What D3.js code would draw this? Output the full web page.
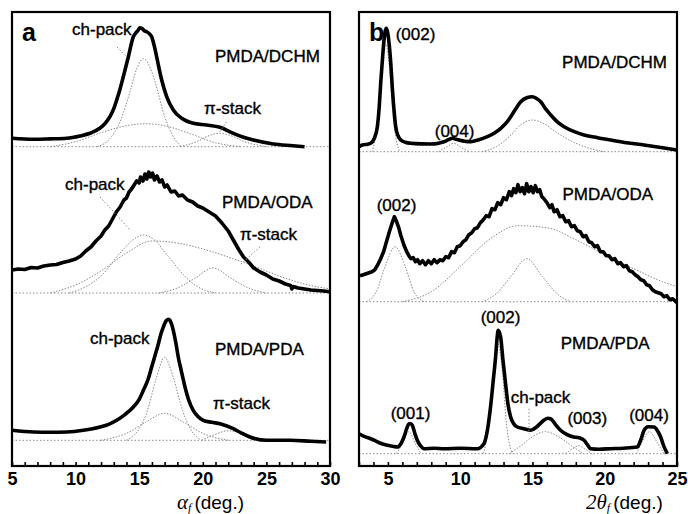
<!DOCTYPE html>
<html><head><meta charset="utf-8">
<script src="https://cdn.jsdelivr.net/npm/d3@7"></script>
<style>html,body{margin:0;padding:0;background:#fff}svg{display:block}</style>
</head><body><div id="chart"></div>
<script>
// ---------- data (intensity in a.u., relative to each fit baseline) ----------
const sampleNames = ["PMDA/DCHM", "PMDA/ODA", "PMDA/PDA"];
const xTicksA = [5, 10, 15, 20, 25, 30];
const xTicksB = [5, 10, 15, 20, 25];

// panel a : azimuthal profiles (alpha_f)
const aDCHM = [[5.0,8.4],[6.7,7.4],[8.0,7.8],[9.3,8.4],[10.35,10.7],[11.13,13.4],[11.9,18.4],[12.3,23],[12.7,30],[13.0,38],[13.23,46.7],[13.5,58],[13.75,70],[14.15,90],[14.54,110],[14.75,114],[14.93,116.7],[15.05,119],[15.2,118.4],[15.4,116],[15.59,115],[15.8,113],[15.98,110],[16.2,100],[16.37,90],[16.77,66.7],[17.16,50],[17.68,36.7],[18.34,28.4],[19.25,23.4],[20.3,21.7],[21.35,19.4],[22.4,13.4],[23.2,9.5],[23.97,6.7],[25.54,2.7],[27.1,1],[28.0,0]];
const aDCHMch = [[11.7,0],[12.7,8],[13.5,25],[14.3,56],[14.8,78],[15.33,88],[15.9,78],[16.4,58],[17.0,30],[17.6,12],[18.3,0]];
const aDCHMbroad = [[8,0],[10,5],[12,14],[14,21],[15.5,23],[17,21],[19,13],[21,4],[23,0]];
const aDCHMpi = [[18.2,0],[19.5,5],[20.5,11],[21.3,13.5],[22.2,11],[23.3,5],[25,0]];

const aODA = [[5.0,23],[5.5,24],[6.0,23.5],[6.5,25.5],[7.0,25],[7.5,27],[8.0,28],[8.5,28.5],[9.0,30.5],[9.5,32],[10.0,34],[10.4,37],[10.8,42],[11.2,46],[11.6,52],[12.0,57],[12.3,63],[12.6,67],[12.9,74],[13.2,81],[13.5,86],[13.8,93],[14.0,95],[14.2,101],[14.4,104],[14.6,108],[14.8,112],[15.0,110],[15.1,116],[15.3,112],[15.45,119],[15.6,114],[15.75,121],[15.9,116],[16.05,120],[16.2,113],[16.4,117],[16.6,111],[16.8,113],[17.0,106],[17.2,108],[17.5,101],[17.8,102],[18.1,97],[18.4,98],[18.8,93],[19.2,91],[19.6,87],[20.0,85],[20.5,81],[21.0,77],[21.5,70],[22.0,62],[22.4,53],[22.8,44],[23.2,36],[23.6,31],[24.0,25],[24.5,21],[25.0,18],[25.5,14],[26.0,12],[26.5,9],[26.9,7.5],[27.0,4],[27.1,6.5],[27.5,5],[28.0,4],[28.5,3],[29.0,2.5],[29.5,2],[30.0,1.3]];
const aODAch = [[9.5,0],[10.6,5],[12,17],[13.5,40],[14.5,53],[15.3,58],[16.2,53],[17.2,38],[18.5,18],[19.5,7],[21,0]];
const aODApi = [[16.5,0],[18,5],[19.3,14],[20.8,25],[22.3,14],[23.6,5],[25,0]];
const aODAbroad = [[8,0],[10,8],[12,22],[14,40],[16,52],[18,50],[20,44],[22,36],[24,27],[26,17],[28,9],[30,4]];

const aPDA = [[5.0,10],[6.7,8.3],[8,8],[9.3,8.3],[10.6,10],[11.92,13.3],[12.6,16],[13.23,20],[13.9,26],[14.54,33.3],[15.0,41],[15.33,50],[15.7,61],[15.98,73.3],[16.25,85],[16.51,96.6],[16.7,106],[16.9,113.3],[17.05,118],[17.16,120],[17.3,121],[17.42,120],[17.55,116],[17.68,110],[17.9,96],[18.07,83.3],[18.3,70],[18.6,53.3],[18.9,40],[19.25,30],[19.6,24],[20.03,20],[20.7,18],[21.35,16.6],[22.4,11.6],[23.0,7.5],[23.7,3.3],[25.0,0],[26.9,0],[28.5,-1],[29.7,-1.7]];
const aPDAch = [[14,0],[14.8,8],[15.6,28],[16.3,60],[17.0,83],[17.7,62],[18.4,30],[19.1,10],[19.9,0]];
const aPDAbroad = [[12,0],[14,7],[15.5,18],[17,27],[18.5,18],[20,7],[22,0]];
const aPDApi = [[19.9,0],[20.8,5],[22,9.5],[23,7.5],[24,3.5],[25,0]];

// panel b : radial profiles (2theta_f)
const bDCHM = [[3.0,5],[3.23,6.7],[3.6,7.5],[3.81,8.4],[4.05,13],[4.27,25],[4.4,45],[4.5,68.4],[4.62,92],[4.73,111.7],[4.82,121],[4.89,123.4],[4.97,120],[5.08,108.4],[5.2,88],[5.3,65],[5.42,42],[5.54,25],[5.7,16],[5.89,11.7],[6.2,9.5],[6.58,8.4],[7.3,7.8],[7.96,7.7],[8.5,8.5],[8.88,10],[9.2,12],[9.46,13.4],[9.7,12.5],[9.92,11.7],[10.3,10.5],[10.73,10],[11.3,12],[11.88,15],[12.4,19],[12.81,23.4],[13.2,29],[13.5,35],[13.85,43],[14.19,50],[14.6,54],[14.99,55],[15.3,53],[15.57,50],[15.9,43],[16.27,36.7],[16.7,30],[17.19,25],[17.9,20],[18.57,16.7],[19.5,14],[20.42,11.7],[21.5,9],[22.72,6.7],[24,4],[25.0,1.7]];
const bDCHM002 = [[3.9,0],[4.3,30],[4.6,85],[4.85,108],[5.1,85],[5.4,30],[5.8,0]];
const bDCHM004 = [[8.5,0],[9.1,5],[9.55,8.5],[10,5],[10.6,0]];
const bDCHMch = [[11.5,0],[12.5,5],[13.4,15],[14.2,27],[15,31.7],[15.8,28],[16.6,20],[17.5,12],[18.6,5],[20,0]];

const bODA = [[3.07,26],[3.3,27],[3.6,28.5],[3.9,30],[4.1,32],[4.3,37],[4.5,43],[4.7,50],[4.9,60],[5.1,70],[5.3,79],[5.45,85],[5.6,80],[5.75,74],[5.9,66],[6.1,57],[6.3,50],[6.45,46],[6.6,43],[6.75,44],[6.9,40],[7.05,42],[7.2,38],[7.4,41],[7.6,37],[7.8,41],[8.0,38],[8.2,42],[8.4,39],[8.6,42],[8.8,41],[9.0,45],[9.2,44],[9.4,50],[9.6,49],[9.8,55],[10.0,56],[10.2,60],[10.4,62],[10.6,67],[10.8,69],[11.0,73],[11.2,74],[11.4,79],[11.6,82],[11.8,86],[12.0,85],[12.2,93],[12.4,92],[12.6,99],[12.8,97],[13.0,104],[13.2,102],[13.4,110],[13.55,106],[13.7,113],[13.85,109],[14.0,117],[14.15,110],[14.3,114],[14.45,108],[14.6,118],[14.75,110],[14.9,115],[15.05,109],[15.2,116],[15.35,110],[15.5,112],[15.65,105],[15.8,103],[16.0,99],[16.2,94],[16.35,97],[16.5,90],[16.7,92],[16.9,85],[17.1,86],[17.3,80],[17.5,81],[17.7,75],[17.9,76],[18.1,71],[18.3,70],[18.5,65],[18.7,66],[18.9,60],[19.1,59],[19.3,55],[19.5,56],[19.7,50],[19.9,50],[20.1,46],[20.3,46],[20.5,42],[20.7,43],[20.9,38],[21.1,39],[21.3,35],[21.5,36],[21.7,31],[21.9,30],[22.1,27],[22.3,25],[22.5,22],[22.7,21],[22.9,17],[23.1,16],[23.3,12],[23.5,10],[23.7,9],[23.9,8],[24.1,5],[24.3,6],[24.5,2],[24.7,3],[25.0,-1]];
const bODA002 = [[3.5,0],[4.2,10],[4.8,35],[5.5,55],[6.2,35],[6.8,10],[7.5,0]];
const bODAch = [[11.5,0],[12.5,8],[13.5,25],[14.6,43],[15.7,25],[16.7,8],[17.6,0]];
const bODAbroad = [[6,0],[8,10],[10,35],[12,62],[14,76],[16,74],[18,62],[20,47],[22,33],[24,20],[25,15]];

const bPDA = [[3.0,20],[3.4,17],[3.81,15],[4.4,11],[4.96,8.4],[5.3,7.5],[5.65,6.7],[5.9,10],[6.11,16.7],[6.3,25],[6.46,30],[6.6,30],[6.69,28.4],[6.85,21],[7.03,13.4],[7.25,8],[7.5,5],[8.2,5.5],[8.88,5],[10,5.5],[11.18,5],[11.64,10],[11.9,25],[12.1,46.7],[12.3,75],[12.45,96.7],[12.55,115],[12.63,123.4],[12.72,121],[12.8,116.7],[12.95,95],[13.14,70],[13.3,50],[13.49,36.7],[13.7,30],[13.95,26.7],[14.4,25],[14.87,23.4],[15.3,27],[15.79,33.4],[16.05,35.5],[16.25,35],[16.6,29],[16.94,23.4],[17.4,19],[17.86,16.7],[18.2,16],[18.57,13.4],[18.8,9],[19.03,5],[19.6,4.5],[20.41,5],[21.3,5.5],[22.25,6.7],[22.5,14],[22.72,23.4],[23.0,27],[23.41,26.7],[23.65,23],[23.87,16.7],[24.1,7],[24.33,0]];
const bPDA001 = [[5.6,0],[6.0,10],[6.45,22],[6.9,10],[7.3,0]];
const bPDA002 = [[11.6,0],[12.0,30],[12.35,85],[12.6,110],[12.9,85],[13.2,30],[13.6,0]];
const bPDAch = [[13.4,0],[14.2,8],[15.0,17],[15.9,22],[16.8,17],[17.7,8],[18.5,0]];
const bPDA003 = [[17.3,0],[17.8,5],[18.2,8],[18.6,5],[19.1,0]];
const bPDA004 = [[22.2,0],[22.6,12],[23.1,22],[23.6,12],[24.1,0]];

// ---------- layout ----------
const W = 688, H = 514;
const plotTop = 12, plotBottom = 466;
const offsetsA = [319.3, 173, 25.7];   // vertical stacking offsets (a.u.)
const offsetsB = [314.3, 164.3, 12.3];
const noisy = [false, true, false];    // ODA profiles drawn without smoothing
const font = "'Liberation Sans', Arial, sans-serif";

const svg = d3.select("#chart").append("svg").attr("width", W).attr("height", H);
const y = d3.scaleLinear().domain([0, 454]).range([plotBottom, plotTop]);

const panelA = {
  x: d3.scaleLinear().domain([5, 30]).range([12, 330]),
  offsets: offsetsA, ticks: xTicksA, letter: "a",
  traces: [aDCHM, aODA, aPDA],
  comps: [[aDCHMch, aDCHMbroad, aDCHMpi], [aODAch, aODApi, aODAbroad], [aPDAch, aPDAbroad, aPDApi]],
  labels: [
    {t:"ch-pack", x:9.72, y:111.7, s:0}, {t:sampleNames[0], x:20.96, y:84.7, s:0}, {t:"π-stack", x:20.09, y:32.7, s:0},
    {t:"ch-pack", x:9.17, y:103, s:1}, {t:sampleNames[1], x:21.51, y:85, s:1}, {t:"π-stack", x:22.92, y:53, s:1},
    {t:"ch-pack", x:11.13, y:96.3, s:2}, {t:sampleNames[2], x:20.96, y:85, s:2}, {t:"π-stack", x:20.8, y:31.6, s:2}
  ],
  leaders: [
    {x1:13.26, y1:99.7, x2:14.04, y2:89.7, s:0}, {x1:21.88, y1:25, x2:21.35, y2:15, s:0},
    {x1:11.92, y1:96, x2:14.28, y2:63, s:1}, {x1:24.5, y1:46.3, x2:22.92, y2:28, s:1}
  ],
  title: {x:177, sym:"α"}
};
const panelB = {
  x: d3.scaleLinear().domain([3, 25]).range([359, 677]),
  offsets: offsetsB, ticks: xTicksB, letter: "b",
  traces: [bDCHM, bODA, bPDA],
  comps: [[bDCHM002, bDCHM004, bDCHMch], [bODA002, bODAch, bODAbroad], [bPDA001, bPDA002, bPDAch, bPDA003, bPDA004]],
  labels: [
    {t:"(002)", x:5.54, y:111.7, s:0}, {t:sampleNames[0], x:17.05, y:83.7, s:0}, {t:"(004)", x:8.24, y:15.2, s:0},
    {t:"(002)", x:4.22, y:91.2, s:1}, {t:sampleNames[1], x:17.07, y:101.7, s:1},
    {t:"(002)", x:11.42, y:130.7, s:2}, {t:sampleNames[2], x:16.96, y:105, s:2}, {t:"ch-pack", x:13.5, y:50.7, s:2},
    {t:"(001)", x:5.19, y:34.7, s:2}, {t:"(003)", x:17.42, y:29.7, s:2}, {t:"(004)", x:21.69, y:32.7, s:2}
  ],
  leaders: [ {x1:14.76, y1:45, x2:14.76, y2:20, s:2} ],
  title: {x:586, sym:"2θ"}
};

function drawPanel(p, id) {
  const x = p.x;
  const [x0, x1] = x.range();
  const g = svg.append("g");
  g.append("clipPath").attr("id", "clip" + id).append("rect")
    .attr("x", x0).attr("y", plotTop).attr("width", x1 - x0).attr("height", plotBottom - plotTop);
  const plot = g.append("g").attr("clip-path", `url(#clip${id})`);

  p.offsets.forEach((off, i) => {
    const line = d3.line().x(d => x(d[0])).y(d => y(d[1] + off)).curve(d3.curveMonotoneX);
    const rough = d3.line().x(d => x(d[0])).y(d => y(d[1] + off)).curve(d3.curveLinear);
    plot.append("path").attr("d", line(x.domain().map(v => [v, 0])))
      .attr("fill", "none").attr("stroke", "#8a8a8a").attr("stroke-width", 1).attr("stroke-dasharray", "1.5,2");
    p.comps[i].forEach(c => {
      plot.append("path").attr("d", line(c)).attr("fill", "none")
        .attr("stroke", "#8a8a8a").attr("stroke-width", 1).attr("stroke-dasharray", "1.5,1.5");
    });
    plot.append("path").attr("d", (noisy[i] ? rough : line)(p.traces[i])).attr("fill", "none")
      .attr("stroke", "#000").attr("stroke-width", 3.6).attr("stroke-linejoin", "round");
  });

  p.leaders.forEach(l => {
    const off = p.offsets[l.s];
    plot.append("line").attr("x1", x(l.x1)).attr("y1", y(l.y1 + off)).attr("x2", x(l.x2)).attr("y2", y(l.y2 + off))
      .attr("stroke", "#8a8a8a").attr("stroke-width", 1).attr("stroke-dasharray", "1.5,2");
  });

  p.labels.forEach(l => {
    g.append("text").attr("x", x(l.x)).attr("y", y(l.y + p.offsets[l.s]))
      .attr("font-family", font).attr("font-size", 17).attr("fill", "#000")
      .attr("stroke", "#000").attr("stroke-width", 0.35).text(l.t);
  });

  g.append("rect").attr("x", x0).attr("y", plotTop).attr("width", x1 - x0).attr("height", plotBottom - plotTop)
    .attr("fill", "none").attr("stroke", "#000").attr("stroke-width", 2.2);

  const [d0, d1] = x.domain();
  const minor = d3.axisBottom(x).tickValues(d3.range(Math.ceil(d0), d1 + 0.001, 1)).tickSize(-4).tickFormat("");
  const mg = g.append("g").attr("transform", `translate(0,${plotBottom})`).call(minor);
  mg.select(".domain").remove();
  mg.selectAll("line").attr("stroke", "#000").attr("stroke-width", 1.6);

  const lab = d3.axisBottom(x).tickValues(p.ticks).tickSize(0).tickPadding(6).tickFormat(d3.format("d"));
  const lg = g.append("g").attr("transform", `translate(0,${plotBottom})`).call(lab);
  lg.select(".domain").remove();
  lg.selectAll("text").attr("font-family", font).attr("font-size", 18).attr("font-weight", "bold").attr("fill", "#000");

  g.append("text").attr("x", x0 + 10).attr("y", 41).attr("font-family", font).attr("font-size", 25)
    .attr("font-weight", "bold").text(p.letter);

  const t = g.append("text").attr("x", p.title.x).attr("y", 509).attr("font-family", font).attr("font-size", 19);
  t.append("tspan").attr("font-family", "'Liberation Serif', 'DejaVu Serif', serif").attr("font-style", "italic")
    .attr("font-size", 21).text(p.title.sym);
  t.append("tspan").attr("font-family", "'Liberation Serif', serif").attr("font-style", "italic")
    .attr("font-size", 12).attr("dy", 3).text("f");
  t.append("tspan").attr("dy", -3).attr("dx", 3).text("(deg.)");
}

drawPanel(panelA, "A");
drawPanel(panelB, "B");
</script></body></html>
